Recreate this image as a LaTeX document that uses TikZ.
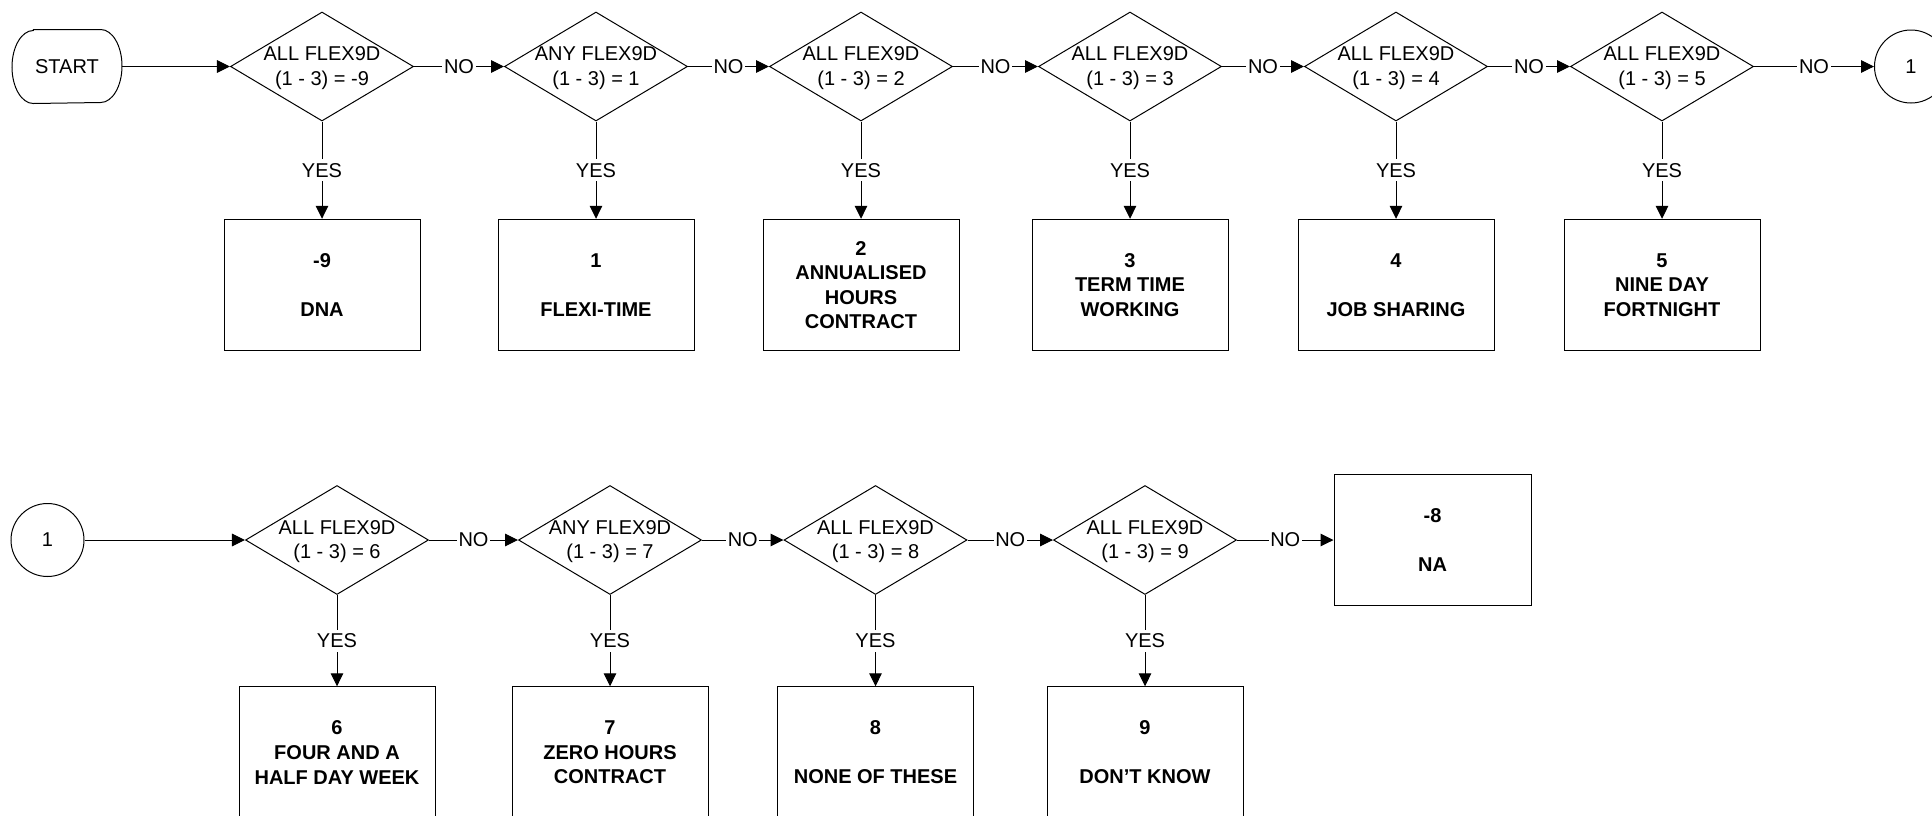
\documentclass[tikz,border=0pt]{standalone}
\usepackage{fontspec}
\setmainfont{Liberation Sans}
\usetikzlibrary{shapes.geometric,arrows.meta}
\begin{document}
\begin{tikzpicture}[x=0.75pt,y=-0.75pt,line width=0.75pt,
  font=\fontsize{15}{18.4}\selectfont,
  dec/.style={shape=diamond,draw,inner sep=0pt,minimum width=137.25pt,minimum height=81.75pt},
  dtext/.style={align=center,inner sep=0pt,yshift=-1.1pt},
  outbox/.style={shape=rectangle,draw,inner sep=0pt,minimum width=147pt,minimum height=98.6pt,align=center,font=\fontsize{15}{18.4}\selectfont\bfseries},
  conn/.style={shape=circle,draw,inner sep=0pt,minimum size=54.75pt},
  arr/.style={-{Triangle[length=9.75pt,width=9.5pt]}},
  lab/.style={fill=white,inner sep=1.2pt}]
\useasboundingbox (0,0) rectangle (1932,815);
\fill[white] (0,0) rectangle (1932,815);
% START terminal
\node[shape=rectangle,inner sep=0pt,minimum width=81.75pt,minimum height=54.75pt] (s) at (67,66.5) {START};
\draw ([xshift=16pt]s.north west) -- ([xshift=-16pt]s.north east)
  arc[start angle=90,end angle=-90,x radius=16pt,y radius=27.375pt]
  -- ([xshift=16pt]s.south west)
  arc[start angle=270,end angle=90,x radius=16pt,y radius=27.375pt] -- cycle;
% top row decisions
\node[dec] (d1) at (322,66.5) {};
\node[dec] (d2) at (596,66.5) {};
\node[dec] (d3) at (861,66.5) {};
\node[dec] (d4) at (1130,66.5) {};
\node[dec] (d5) at (1396,66.5) {};
\node[dec] (d6) at (1662,66.5) {};
\node[dtext] (t1) at (d1) {ALL FLEX9D\\(1 - 3) = -9};
\node[dtext] (t2) at (d2) {ANY FLEX9D\\(1 - 3) = 1};
\node[dtext] (t3) at (d3) {ALL FLEX9D\\(1 - 3) = 2};
\node[dtext] (t4) at (d4) {ALL FLEX9D\\(1 - 3) = 3};
\node[dtext] (t5) at (d5) {ALL FLEX9D\\(1 - 3) = 4};
\node[dtext] (t6) at (d6) {ALL FLEX9D\\(1 - 3) = 5};
% top row outcomes
\node[outbox] (b1) at (322,285) {-9\\[18.4pt]DNA};
\node[outbox] (b2) at (596,285) {1\\[18.4pt]FLEXI-TIME};
\node[outbox] (b3) at (861,285) {2\\ANNUALISED\\HOURS\\CONTRACT};
\node[outbox] (b4) at (1130,285) {3\\TERM TIME\\WORKING};
\node[outbox] (b5) at (1396,285) {4\\[18.4pt]JOB SHARING};
\node[outbox] (b6) at (1662,285) {5\\NINE DAY\\FORTNIGHT};
\node[conn] (c1) at (1911,66.5) {1};
% bottom row
\node[conn] (c2) at (47.5,540) {1};
\node[dec] (d7) at (337,540) {};
\node[dec] (d8) at (610,540) {};
\node[dec] (d9) at (875.5,540) {};
\node[dec] (d10) at (1145,540) {};
\node[dtext] (t7) at (d7) {ALL FLEX9D\\(1 - 3) = 6};
\node[dtext] (t8) at (d8) {ANY FLEX9D\\(1 - 3) = 7};
\node[dtext] (t9) at (d9) {ALL FLEX9D\\(1 - 3) = 8};
\node[dtext] (t10) at (d10) {ALL FLEX9D\\(1 - 3) = 9};
\node[outbox] (b7) at (337,752.5) {6\\FOUR AND A\\HALF DAY WEEK};
\node[outbox] (b8) at (610,752.5) {7\\ZERO HOURS\\CONTRACT};
\node[outbox] (b9) at (875.5,752.5) {8\\[18.4pt]NONE OF THESE};
\node[outbox] (b10) at (1145,752.5) {9\\[18.4pt]DON’T KNOW};
\node[outbox,minimum width=147.75pt,minimum height=98.25pt] (na) at (1432.5,540) {-8\\[18.4pt]NA};
% connectors top
\draw[arr] (s) -- (d1);
\draw[arr] (d1) -- node[lab] (n1) {NO} (d2);
\draw[arr] (d2) -- node[lab] (n2) {NO} (d3);
\draw[arr] (d3) -- node[lab] (n3) {NO} (d4);
\draw[arr] (d4) -- node[lab] (n4) {NO} (d5);
\draw[arr] (d5) -- node[lab] (n5) {NO} (d6);
\draw[arr] (d6) -- node[lab] (n6) {NO} (c1);
\draw[arr] (d1) -- node[lab,inner sep=3pt] (y1) {YES} (b1);
\draw[arr] (d2) -- node[lab,inner sep=3pt] (y2) {YES} (b2);
\draw[arr] (d3) -- node[lab,inner sep=3pt] (y3) {YES} (b3);
\draw[arr] (d4) -- node[lab,inner sep=3pt] (y4) {YES} (b4);
\draw[arr] (d5) -- node[lab,inner sep=3pt] (y5) {YES} (b5);
\draw[arr] (d6) -- node[lab,inner sep=3pt] (y6) {YES} (b6);
% connectors bottom
\draw[arr] (c2) -- (d7);
\draw[arr] (d7) -- node[lab] (n7) {NO} (d8);
\draw[arr] (d8) -- node[lab] (n8) {NO} (d9);
\draw[arr] (d9) -- node[lab] (n9) {NO} (d10);
\draw[arr] (d10) -- node[lab] (n10) {NO} (na);
\draw[arr] (d7) -- node[lab,inner sep=3pt] (y7) {YES} (b7);
\draw[arr] (d8) -- node[lab,inner sep=3pt] (y8) {YES} (b8);
\draw[arr] (d9) -- node[lab,inner sep=3pt] (y9) {YES} (b9);
\draw[arr] (d10) -- node[lab,inner sep=3pt] (y10) {YES} (b10);
\end{tikzpicture}
\end{document}
